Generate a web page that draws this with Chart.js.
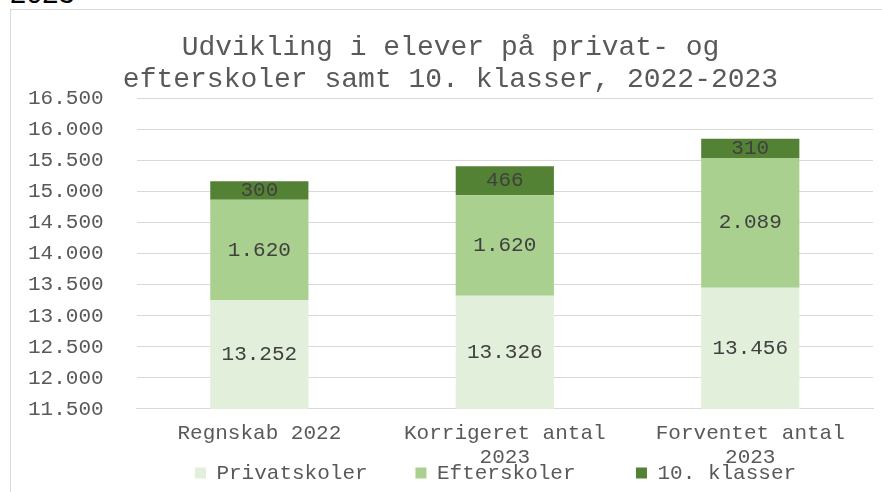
<!DOCTYPE html>
<html>
<head>
<meta charset="utf-8">
<script src="https://cdn.jsdelivr.net/npm/chart.js@4/dist/chart.umd.min.js"></script>
<style>
  html, body { margin: 0; padding: 0; background: #fff; overflow: hidden; }
  body { width: 882px; height: 492px; position: relative; }
  #above { position: absolute; left: 10px; top: -21px; font: 29px "Liberation Sans", sans-serif; color: #000; line-height: 29px; }
  #frame { position: absolute; left: 10px; top: 9px; width: 890px; height: 520px;
           border-left: 1px solid #d9d9d9; border-top: 1px solid #d9d9d9; }
  #chart { position: absolute; left: 0; top: 0; }
</style>
</head>
<body>
<div id="above">2023</div>
<div id="frame"><canvas id="chart" width="882" height="512"></canvas></div>
<script>
const categories = [["Regnskab 2022"], ["Korrigeret antal", "2023"], ["Forventet antal", "2023"]];
const seriesNames = ["Privatskoler", "Efterskoler", "10. klasser"];
const privatskoler = [13252, 13326, 13456];
const efterskoler = [1620, 1620, 2089];
const tiendeKlasser = [300, 466, 310];
const titleLines = ["Udvikling i elever på privat- og", "efterskoler samt 10. klasser, 2022-2023"];

const mono = "'Liberation Mono', 'Courier New', monospace";
const fmt = v => String(v).replace(/\B(?=(\d{3})+(?!\d))/g, ".");
const yPad = 33;

// labels centred in the visible part of each segment
const segmentLabels = {
  id: "segmentLabels",
  afterDatasetsDraw(chart) {
    const { ctx, chartArea } = chart;
    ctx.save();
    ctx.font = "21px " + mono;
    ctx.fillStyle = "#404040";
    ctx.textAlign = "center";
    ctx.textBaseline = "middle";
    chart.data.datasets.forEach((ds, i) => {
      chart.getDatasetMeta(i).data.forEach((bar, j) => {
        const top = Math.max(bar.y, chartArea.top);
        const bottom = Math.min(bar.base, chartArea.bottom);
        ctx.fillText(fmt(ds.data[j]), bar.x, (top + bottom) / 2);
      });
    });
    ctx.restore();
  }
};

// Excel tucks the legend right under the axis labels, centred under the plot
const legendShift = {
  id: "legendShift",
  afterLayout(chart) {
    const lg = chart.legend;
    const dx = 45;
    const dy = chart.chartArea.bottom + 43.5 - lg.top;
    lg.left += dx; lg.right += dx;
    lg.top += dy; lg.bottom += dy;
  }
};

new Chart(document.getElementById("chart"), {
  type: "bar",
  data: {
    labels: categories,
    datasets: [
      { label: seriesNames[0], data: privatskoler, backgroundColor: "#e2efda" },
      { label: seriesNames[1], data: efterskoler, backgroundColor: "#a9d08e" },
      { label: seriesNames[2], data: tiendeKlasser, backgroundColor: "#548235" }
    ]
  },
  options: {
    responsive: false,
    animation: false,
    layout: { padding: { left: 17, right: 20, top: 0, bottom: 0 } },
    datasets: { bar: { categoryPercentage: 1, barPercentage: 0.4, borderWidth: 0 } },
    plugins: {
      title: {
        display: true,
        text: titleLines,
        color: "#595959",
        font: { family: mono, size: 28, weight: "normal", lineHeight: 1.14 },
        padding: { top: 22, bottom: 3 }
      },
      legend: {
        position: "bottom",
        labels: {
          color: "#595959",
          font: { family: mono, size: 21 },
          boxWidth: 11,
          boxHeight: 11,
          padding: 10,
          generateLabels(chart) {
            const items = Chart.defaults.plugins.legend.labels.generateLabels(chart);
            items.forEach(it => { it.text = it.text.padEnd(15, " "); it.lineWidth = 0; });
            items[items.length - 1].text = items[items.length - 1].text.trim();
            return items;
          }
        }
      },
      tooltip: { enabled: false }
    },
    scales: {
      x: {
        stacked: true,
        grid: { display: false, drawTicks: false },
        border: { display: true, color: "#d9d9d9" },
        ticks: { color: "#595959", font: { family: mono, size: 21, lineHeight: 1.143 }, padding: 12, maxRotation: 0, autoSkip: false },
        afterFit(scale) { scale.paddingLeft = 0; scale.paddingRight = 0; }
      },
      y: {
        stacked: true,
        min: 11500,
        max: 16500,
        grid: { color: "#d9d9d9", drawTicks: false },
        border: { display: false },
        ticks: { stepSize: 500, color: "#595959", font: { family: mono, size: 21 }, padding: yPad, callback: v => fmt(v) },
        afterFit(scale) { scale.width -= yPad; }
      }
    }
  },
  plugins: [segmentLabels, legendShift]
});
</script>
</body>
</html>
